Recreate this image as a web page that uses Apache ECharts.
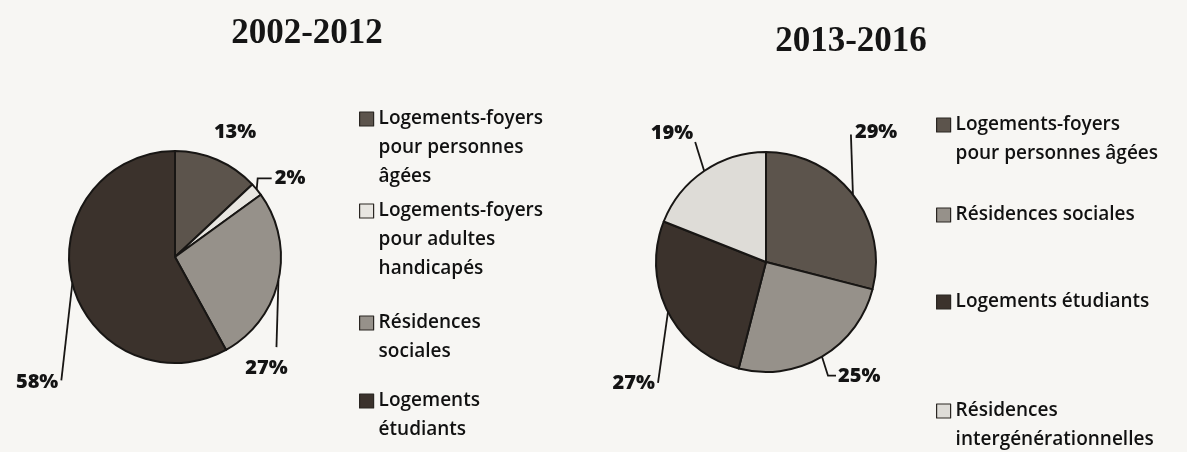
<!DOCTYPE html>
<html>
<head>
<meta charset="utf-8">
<script src="https://cdn.jsdelivr.net/npm/echarts@6/dist/echarts.min.js"></script>
<style>
html,body{margin:0;padding:0;background:#f7f6f3;}
#chart{width:1187px;height:452px;}
</style>
</head>
<body>
<div id="chart"></div>
<script>
// ---- data ----
var titles = ['2002-2012', '2013-2016'];
var categoriesLeft = [
  'Logements-foyers pour personnes âgées',
  'Logements-foyers pour adultes handicapés',
  'Résidences sociales',
  'Logements étudiants'
];
var valuesLeft = [13, 2, 27, 58];
var categoriesRight = [
  'Logements-foyers pour personnes âgées',
  'Résidences sociales',
  'Logements étudiants',
  'Résidences intergénérationnelles'
];
var valuesRight = [29, 25, 27, 19];
// wrapped legend texts
var legendLeftText = [
  'Logements-foyers\npour personnes\nâgées',
  'Logements-foyers\npour adultes\nhandicapés',
  'Résidences\nsociales',
  'Logements\nétudiants'
];
var legendRightText = [
  'Logements-foyers\npour personnes âgées',
  'Résidences sociales',
  'Logements étudiants',
  'Résidences\nintergénérationnelles'
];

// ---- styles ----
var colorMap = {
  'Logements-foyers pour personnes âgées': '#5c544c',
  'Logements-foyers pour adultes handicapés': '#e8e6e1',
  'Résidences sociales': '#96918a',
  'Logements étudiants': '#3b322c',
  'Résidences intergénérationnelles': '#dedcd7'
};
var legendFirstLineLeft = [119, 211, 323, 401];
var legendFirstLineRight = [125, 215, 302, 411];
var LH = 29;
// label placement offsets relative to slice edge anchor: line points and label pos
var labelSpecLeft = [
  {line: null, pos: [18, -27], align: 'center'},
  {line: [[1, -11], [15, -11]], pos: [18, -11], align: 'left'},
  {line: [[-2, 67]], pos: [-12, 88], align: 'center'},
  {line: [[-11, 97]], pos: [-14, 99], align: 'right'}
];
var labelSpecRight = [
  {line: [[-2, -60]], pos: [2, -62], align: 'left'},
  {line: [[6, 19], [14, 19]], pos: [16, 20], align: 'left'},
  {line: [[-10, 71]], pos: [-13, 71], align: 'right'},
  {line: [[-9, -29]], pos: [-11, -38], align: 'right'}
];
var pies = [
  {center: [175, 257], r: 106, cats: categoriesLeft, vals: valuesLeft, spec: labelSpecLeft},
  {center: [766, 262], r: 110, cats: categoriesRight, vals: valuesRight, spec: labelSpecRight}
];

function anchorFor(p, idx) {
  var total = p.vals.reduce(function (a, b) { return a + b; }, 0);
  var cum = 0;
  for (var i = 0; i < idx; i++) cum += p.vals[i];
  var mid = (cum + p.vals[idx] / 2) / total * Math.PI * 2;
  return [p.center[0] + p.r * Math.sin(mid), p.center[1] - p.r * Math.cos(mid)];
}

var labelFont = {fontFamily: '"Open Sans", sans-serif', fontWeight: 800, fontSize: 20, color: '#141414'};

var series = pies.map(function (p, si) {
  return {
    type: 'pie',
    center: p.center,
    radius: [0, p.r],
    startAngle: 90,
    clockwise: true,
    animation: false,
    silent: true,
    avoidLabelOverlap: false,
    itemStyle: {borderColor: '#181614', borderWidth: 2},
    label: Object.assign({show: true, position: 'outside', formatter: '{c}%'}, labelFont),
    labelLine: {show: true, length: 10, length2: 10, lineStyle: {color: '#181614', width: 1.8}},
    labelLayout: function (params) {
      var idx = params.dataIndex;
      var spec = p.spec[idx];
      var a = anchorFor(p, idx);
      var res = {
        x: a[0] + spec.pos[0],
        y: a[1] + spec.pos[1],
        align: spec.align,
        verticalAlign: 'middle'
      };
      if (spec.line) {
        var pts = [[a[0], a[1]]];
        spec.line.forEach(function (d) { pts.push([a[0] + d[0], a[1] + d[1]]); });
        if (pts.length === 2) pts.push(pts[1].slice());
        res.labelLinePoints = pts;
      }
      return res;
    },
    data: p.cats.map(function (c, i) {
      var d = {name: c, value: p.vals[i], itemStyle: {color: colorMap[c]}};
      if (!p.spec[i].line) d.labelLine = {show: false};
      return d;
    })
  };
});

function makeLegends(cats, texts, firstLines, left) {
  return cats.map(function (c, i) {
    var n = texts[i].split('\n').length;
    var pad = '';
    for (var k = 0; k < n - 1; k++) pad += '\n';
    var txt = pad + texts[i];
    return {
      data: [c],
      orient: 'vertical',
      left: left,
      top: firstLines[i] - (n - 1) * LH - LH / 2,
      padding: 0,
      itemWidth: 14,
      itemHeight: 14,
      icon: 'rect',
      selectedMode: false,
      itemStyle: {borderColor: '#2a2622', borderWidth: 1.2},
      formatter: function () { return txt; },
      textStyle: {fontFamily: '"Open Sans", sans-serif', fontWeight: 600, fontSize: 19, lineHeight: LH, color: '#111111'}
    };
  });
}

var legends = makeLegends(categoriesLeft, legendLeftText, legendFirstLineLeft, 359)
  .concat(makeLegends(categoriesRight, legendRightText, legendFirstLineRight, 936));

var chart = echarts.init(document.getElementById('chart'), null, {renderer: 'canvas'});
chart.setOption({
  backgroundColor: '#f7f6f3',
  animation: false,
  legend: legends,
  graphic: [
    {type: 'text', x: 307, y: 34, style: {text: titles[0], font: 'bold 35px "Liberation Serif", serif', fill: '#151515', align: 'center', verticalAlign: 'middle'}},
    {type: 'text', x: 851, y: 42, style: {text: titles[1], font: 'bold 35px "Liberation Serif", serif', fill: '#151515', align: 'center', verticalAlign: 'middle'}}
  ],
  series: series
});
</script>
</body>
</html>
